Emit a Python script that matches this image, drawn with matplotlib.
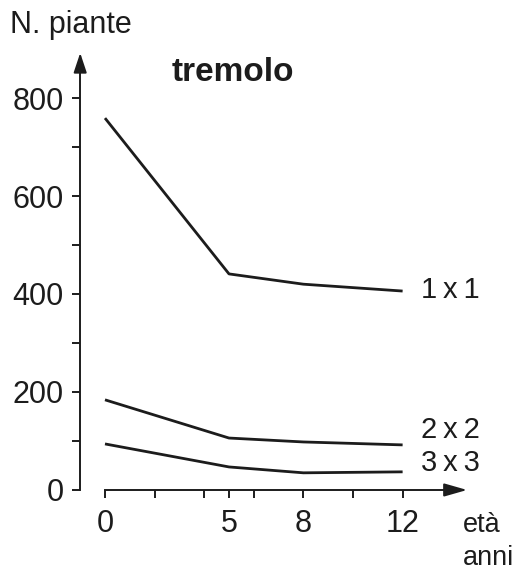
import matplotlib
matplotlib.use("Agg")
import matplotlib.pyplot as plt

# eta' (anni) e numero di piante per sesto d'impianto
eta = [0, 5, 8, 12]
piante_1x1 = [759, 441, 420, 406]
piante_2x2 = [184, 106, 98, 92]
piante_3x3 = [94, 47, 35, 37]
sesti = ["1\u2009x\u20091", "2\u2009x\u20092", "3\u2009x\u20093"]
label_y = [408, 122, 55]

x_ticks = [0, 2, 4, 5, 6, 8, 10, 12]
x_labels = ["0", "", "", "5", "", "8", "", "12"]
y_ticks = [0, 100, 200, 300, 400, 500, 600, 700, 800]
y_labels = ["0", "", "200", "", "400", "", "600", "", "800"]

ink = "#1c1c1c"
plt.rcParams["font.family"] = ["Liberation Sans", "DejaVu Sans"]
plt.rcParams["font.size"] = 22

fig = plt.figure(figsize=(5.3, 5.7), dpi=100)
ax = fig.add_axes([0.1513, 0.1404, 0.730, 0.765])
ax.set_xlim(-1, 14.6)
ax.set_ylim(0, 890)

for serie in [piante_1x1, piante_2x2, piante_3x3]:
    ax.plot(eta, serie, color=ink, lw=2.0, solid_capstyle="butt", clip_on=False)

for nome, yy in zip(sesti, label_y):
    ax.text(12.75, yy, nome, color=ink, va="center", ha="left", fontsize=21)

# assi
for s in ["top", "right"]:
    ax.spines[s].set_visible(False)
ax.spines["left"].set_position(("data", -1))
ax.spines["left"].set_bounds(0, 870)
ax.spines["bottom"].set_bounds(0, 14.2)
for s in ["left", "bottom"]:
    ax.spines[s].set_linewidth(1.4)
    ax.spines[s].set_color(ink)

ax.set_xticks(x_ticks)
ax.set_xticklabels(x_labels)
ax.set_yticks(y_ticks)
ax.set_yticklabels(y_labels)
ax.tick_params(axis="both", direction="out", length=6, width=1.4, color=ink,
               labelcolor=ink)
ax.tick_params(axis="x", pad=8)
ax.tick_params(axis="y", pad=6)

ax.annotate("", xy=(-1, 892), xytext=(-1, 860), annotation_clip=False,
            arrowprops=dict(arrowstyle="-|>,head_length=1.2,head_width=0.4",
                            mutation_scale=10, color=ink, lw=1.4,
                            shrinkA=0, shrinkB=0))
ax.annotate("", xy=(14.6, 0), xytext=(14.0, 0), annotation_clip=False,
            arrowprops=dict(arrowstyle="-|>,head_length=1.4,head_width=0.4",
                            mutation_scale=10, color=ink, lw=1.4,
                            shrinkA=0, shrinkB=0))

ax.text(2.7, 853, "tremolo", fontweight="bold", fontsize=24, color=ink,
        va="center", ha="left")
fig.text(10 / 530, 1 - 25 / 570, "N. piante", color=ink, va="center", ha="left")
ax.text(14.45, -86, "età", color=ink, va="baseline", ha="left", fontsize=19.5,
        clip_on=False)
ax.text(14.45, -153, "anni", color=ink, va="baseline", ha="left", fontsize=19.5,
        clip_on=False)

fig.savefig("out.png", dpi=100)
